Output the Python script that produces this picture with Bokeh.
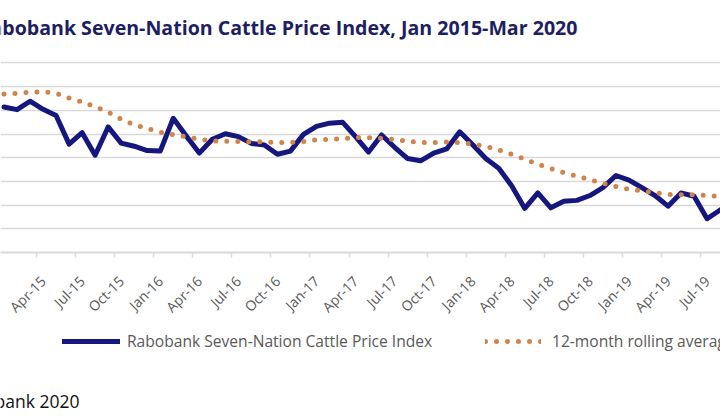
import math
from bokeh.plotting import figure
from bokeh.layouts import column
from bokeh.models import FixedTicker, Legend, LegendItem, Range1d
from bokeh.core.properties import value
from bokeh.embed import file_html
from bokeh.resources import INLINE

# month index 0 = Jan-15 (visible part of the chart: Jan-15 .. Aug-19)
month_index = list(range(56))
index_values = [
    122.8, 120.6, 127.7, 120.9, 115.7, 91.5, 101.1, 82.1, 106.0, 92.3, 89.7, 86.1,
    85.6, 113.3, 98.4, 83.9, 95.6, 100.2, 97.8, 92.1, 90.7, 82.9, 85.6, 99.7,
    106.5, 109.2, 110.0, 97.8, 84.8, 99.2, 88.8, 79.3, 77.4, 83.9, 87.4, 101.9,
    91.0, 79.3, 71.1, 56.2, 37.2, 50.3, 37.7, 43.2, 44.0, 48.1, 54.8, 65.0,
    61.1, 54.8, 48.1, 39.1, 50.3, 47.5, 28.5, 35.9,
]
rolling_avg = [
    133.7, 134.3, 135.3, 135.7, 134.3, 130.4, 127.1, 123.1, 118.4, 112.5, 107.8, 104.6,
    101.6, 99.4, 97.8, 95.6, 94.3, 93.9, 93.7, 93.5, 93.5, 92.7, 92.9, 93.7,
    95.1, 95.4, 96.2, 97.0, 97.0, 96.4, 95.4, 94.0, 92.9, 92.9, 93.2, 92.9,
    91.5, 89.7, 86.6, 82.9, 78.8, 74.4, 70.9, 67.4, 64.4, 61.4, 58.4, 55.7,
    53.5, 52.2, 50.5, 49.1, 48.7, 48.7, 48.1, 47.5,
]
tick_months = [3, 6, 9, 12, 15, 18, 21, 24, 27, 30, 33, 36, 39, 42, 45, 48, 51, 54]
tick_labels = ["Apr-15", "Jul-15", "Oct-15", "Jan-16", "Apr-16", "Jul-16",
               "Oct-16", "Jan-17", "Apr-17", "Jul-17", "Oct-17", "Jan-18", "Apr-18",
               "Jul-18", "Oct-18", "Jan-19", "Apr-19", "Jul-19"]
grid_values = [0, 20, 40, 60, 80, 100, 120, 140, 160]

title_text = "Rabobank Seven-Nation Cattle Price Index, Jan 2015-Mar 2020"
series1_name = "Rabobank Seven-Nation Cattle Price Index"
series2_name = "12-month rolling average"
source_text = "Source: Rabobank 2020"

BLUE = "#15177E"
ORANGE = "#D0844A"
GRID = "#D9D9D9"
W = 720
TOP_H, MAIN_H, BOT_H = 45, 280, 94


def blank(h):
    f = figure(width=W, height=h, output_backend="svg", toolbar_location=None,
               x_range=Range1d(0, W), y_range=Range1d(0, h),
               min_border=0, min_border_left=0, min_border_right=0,
               min_border_top=0, min_border_bottom=0)
    f.axis.visible = False
    f.grid.visible = False
    f.outline_line_color = None
    return f


# ---- title strip
top = blank(TOP_H)
top.text(x=[577], y=[TOP_H - 27.3], text=[title_text], text_align="right",
         text_baseline="alphabetic", text_font=value("Open Sans"),
         text_font_style="bold", text_font_size="19.6px", text_color="#1E1E62")

# ---- main chart
main = figure(width=W, height=MAIN_H, output_backend="svg", toolbar_location=None,
              min_border_left=0, min_border_right=0, min_border_top=10,
              min_border_bottom=MAIN_H - 214,
              x_range=Range1d(-0.269, 55.03), y_range=Range1d(0, 166.3))
main.outline_line_color = None

main.line(month_index, index_values, line_color=BLUE, line_width=5,
          line_join="round", line_cap="round")
main.line(month_index, rolling_avg, line_color=ORANGE, line_width=5,
          line_dash="0 11", line_cap="round")

main.yaxis.visible = False
main.yaxis.ticker = FixedTicker(ticks=grid_values)
main.ygrid.grid_line_color = GRID
main.ygrid.grid_line_width = 1.5
main.xgrid.visible = False

ax = main.xaxis[0]
ax.ticker = FixedTicker(ticks=tick_months, minor_ticks=[m - 0.5 for m in tick_months])
ax.major_label_overrides = {m: lab for m, lab in zip(tick_months, tick_labels)}
ax.major_label_orientation = math.pi / 4
ax.major_tick_in = 0
ax.major_tick_out = 0
ax.minor_tick_in = 0
ax.minor_tick_out = 5
ax.minor_tick_line_color = GRID
ax.minor_tick_line_width = 1.5
ax.axis_line_color = GRID
ax.axis_line_width = 2
ax.major_label_text_font = "Open Sans"
ax.major_label_text_font_size = "14px"
ax.major_label_text_color = "#595959"
ax.major_label_standoff = 21

# ---- legend + source strip
bot = blank(BOT_H)
# single-point, off-frame stand-ins so the legend can draw its samples
d1 = bot.line(x=[0], y=[-50], line_color=BLUE, line_width=5, line_cap="round")
d2 = bot.line(x=[0], y=[-50], line_color=ORANGE, line_width=5, line_dash="0 11",
              line_cap="round")
common = dict(padding=0, margin=0, spacing=0, border_line_alpha=0,
              background_fill_alpha=0, glyph_height=20, label_height=20,
              label_text_font="Open Sans", label_text_font_size="15.6px",
              label_text_color="#595959")
leg1 = Legend(items=[LegendItem(label=series1_name, renderers=[d1])],
              location=(62, BOT_H - 16.5 - 10), glyph_width=58, label_standoff=7, **common)
leg2 = Legend(items=[LegendItem(label=series2_name, renderers=[d2])],
              location=(485, BOT_H - 16.5 - 10), glyph_width=56, label_standoff=11, **common)
bot.add_layout(leg1, "center")
bot.add_layout(leg2, "center")
bot.text(x=[79], y=[419 - 400.7], text=[source_text], text_align="right",
         text_baseline="alphabetic", text_font=value("Open Sans"),
         text_font_size="17.5px", text_color="#111111")

layout = column(top, main, bot, spacing=0)
open("out.html", "w").write(file_html(layout, INLINE))
